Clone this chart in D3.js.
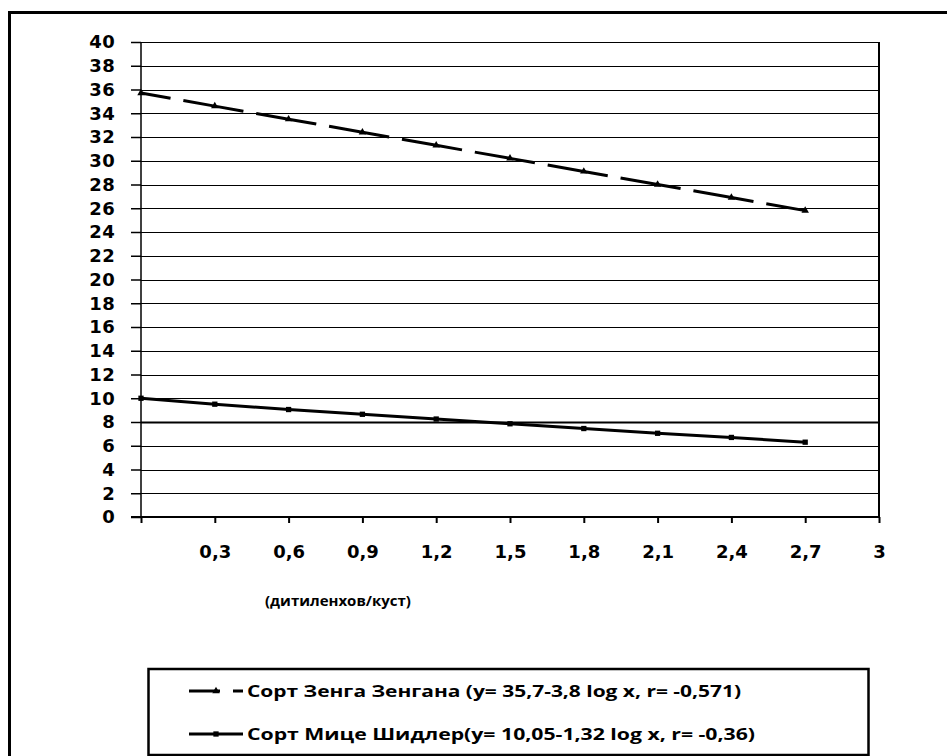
<!DOCTYPE html>
<html>
<head>
<meta charset="utf-8">
<script src="https://cdn.jsdelivr.net/npm/d3@7"></script>
<style>
  body { margin: 0; background: #fff; }
  svg { display: block; }
</style>
</head>
<body>
<div id="container"></div>
<script>
// values
var xValues = [0, 0.3, 0.6, 0.9, 1.2, 1.5, 1.8, 2.1, 2.4, 2.7];
var zengaValues = [35.7, 34.6, 33.5, 32.4, 31.3, 30.2, 29.1, 28.0, 26.9, 25.8];
var miceValues = [10.0, 9.5, 9.05, 8.65, 8.25, 7.85, 7.45, 7.05, 6.7, 6.3];
var xTicks = [0.3, 0.6, 0.9, 1.2, 1.5, 1.8, 2.1, 2.4, 2.7, 3];
var yTicks = d3.range(0, 41, 2);
var seriesNames = [
  "Сорт Зенга Зенгана (у= 35,7-3,8 log x, r= -0,571)",
  "Сорт Мице Шидлер(у= 10,05-1,32 log x, r= -0,36)"
];
var xTitle = "(дитиленхов/куст)";

var width = 947, height = 756;

var svg = d3.select("#container").append("svg")
  .attr("width", width)
  .attr("height", height);

// outer frame
svg.append("rect")
  .attr("x", 9.5).attr("y", 12.5)
  .attr("width", 960).attr("height", 800)
  .attr("fill", "none")
  .attr("stroke", "#000")
  .attr("stroke-width", 3);

var xScale = d3.scaleLinear().domain([0, 3]).range([141, 879]);
var yScale = d3.scaleLinear().domain([0, 40]).range([517, 42]);

// gridlines
svg.append("g")
  .selectAll("line")
  .data(yTicks.filter(function (d) { return d > 0; }))
  .enter()
  .append("line")
  .attr("x1", xScale(0))
  .attr("x2", xScale(3))
  .attr("y1", function (d) { return Math.round(yScale(d)) + 0.5; })
  .attr("y2", function (d) { return Math.round(yScale(d)) + 0.5; })
  .attr("stroke", "#000")
  .attr("stroke-width", function (d) { return d === 8 ? 2 : 1.2; });

// right border of the plot area
svg.append("line")
  .attr("x1", xScale(3)).attr("x2", xScale(3))
  .attr("y1", yScale(40)).attr("y2", yScale(0))
  .attr("stroke", "#000")
  .attr("stroke-width", 2);

var fontTicks = "'DejaVu Sans', Verdana, sans-serif";

var yAxis = d3.axisLeft(yScale)
  .tickValues(yTicks)
  .tickSize(10)
  .tickPadding(16)
  .tickFormat(d3.format("d"));

var yAxisG = svg.append("g")
  .attr("transform", "translate(141,0)")
  .call(yAxis);
yAxisG.selectAll("path,line").attr("stroke", "#000").attr("stroke-width", 1.5);
yAxisG.selectAll("text")
  .attr("fill", "#000")
  .style("font-family", fontTicks)
  .style("font-weight", "bold")
  .style("font-size", "18px")
  .style("letter-spacing", "0.3px");
yAxisG.select(".domain").attr("d", "M0," + yScale(40) + "V" + yScale(0));

var xAxis = d3.axisBottom(xScale)
  .tickValues([0].concat(xTicks))
  .tickSize(6)
  .tickPadding(22)
  .tickFormat(function (d) { return d === 0 ? "" : String(d).replace(".", ","); });

var xAxisG = svg.append("g")
  .attr("transform", "translate(0,517)")
  .call(xAxis);
xAxisG.selectAll("path,line").attr("stroke", "#000").attr("stroke-width", 2);
xAxisG.select(".domain").attr("d", "M" + (xScale(0) - 10) + ",0H" + xScale(3));
xAxisG.selectAll("text")
  .attr("fill", "#000")
  .style("font-family", fontTicks)
  .style("font-weight", "bold")
  .style("font-size", "18px");

// axis title
svg.append("text")
  .attr("x", 338)
  .attr("y", 606)
  .attr("text-anchor", "middle")
  .style("font-family", "'Open Sans', 'Noto Sans', sans-serif")
  .style("font-weight", "bold")
  .style("font-size", "15px")
  .text(xTitle);

var line = d3.line()
  .x(function (d) { return xScale(d[0]); })
  .y(function (d) { return yScale(d[1]); });

var zengaData = xValues.map(function (x, i) { return [x, zengaValues[i]]; });
var miceData = xValues.map(function (x, i) { return [x, miceValues[i]]; });

var triangle = d3.symbol().type(d3.symbolTriangle).size(24);
var square = d3.symbol().type(d3.symbolSquare).size(28);

// series 1: dashed with triangles
svg.append("path")
  .datum(zengaData)
  .attr("d", line)
  .attr("fill", "none")
  .attr("stroke", "#000")
  .attr("stroke-width", 3)
  .attr("stroke-dasharray", "61,13")
  .attr("stroke-dashoffset", 31);

svg.append("g")
  .selectAll("path")
  .data(zengaData)
  .enter()
  .append("path")
  .attr("d", triangle)
  .attr("transform", function (d) {
    return "translate(" + xScale(d[0]) + "," + yScale(d[1]) + ")";
  })
  .attr("fill", "#000");

// series 2: solid with squares
svg.append("path")
  .datum(miceData)
  .attr("d", line)
  .attr("fill", "none")
  .attr("stroke", "#000")
  .attr("stroke-width", 3);

svg.append("g")
  .selectAll("path")
  .data(miceData)
  .enter()
  .append("path")
  .attr("d", square)
  .attr("transform", function (d) {
    return "translate(" + xScale(d[0]) + "," + yScale(d[1]) + ")";
  })
  .attr("fill", "#000");

// legend
var legend = svg.append("g").attr("id", "legend");
legend.append("rect")
  .attr("x", 148.5).attr("y", 669)
  .attr("width", 720).attr("height", 86)
  .attr("fill", "#fff")
  .attr("stroke", "#000")
  .attr("stroke-width", 2.5);

var rowY = [691, 734];

legend.append("line")
  .attr("x1", 189).attr("x2", 243)
  .attr("y1", rowY[0]).attr("y2", rowY[0])
  .attr("stroke", "#000")
  .attr("stroke-width", 3)
  .attr("stroke-dasharray", "31,13,10");
legend.append("path")
  .attr("d", triangle)
  .attr("transform", "translate(216," + rowY[0] + ")")
  .attr("fill", "#000");

legend.append("line")
  .attr("x1", 189).attr("x2", 243)
  .attr("y1", rowY[1]).attr("y2", rowY[1])
  .attr("stroke", "#000")
  .attr("stroke-width", 3);
legend.append("path")
  .attr("d", square)
  .attr("transform", "translate(216," + rowY[1] + ")")
  .attr("fill", "#000");

legend.selectAll("text.name")
  .data(seriesNames)
  .enter()
  .append("text")
  .attr("class", "name")
  .attr("x", 247)
  .attr("y", function (d, i) { return rowY[i] + 5.5; })
  .attr("textLength", function (d, i) { return i === 0 ? 494 : 508; })
  .attr("lengthAdjust", "spacingAndGlyphs")
  .style("font-family", "'Open Sans', 'Noto Sans', sans-serif")
  .style("font-weight", "bold")
  .style("font-size", "16px")
  .text(function (d) { return d; });
</script>
</body>
</html>
